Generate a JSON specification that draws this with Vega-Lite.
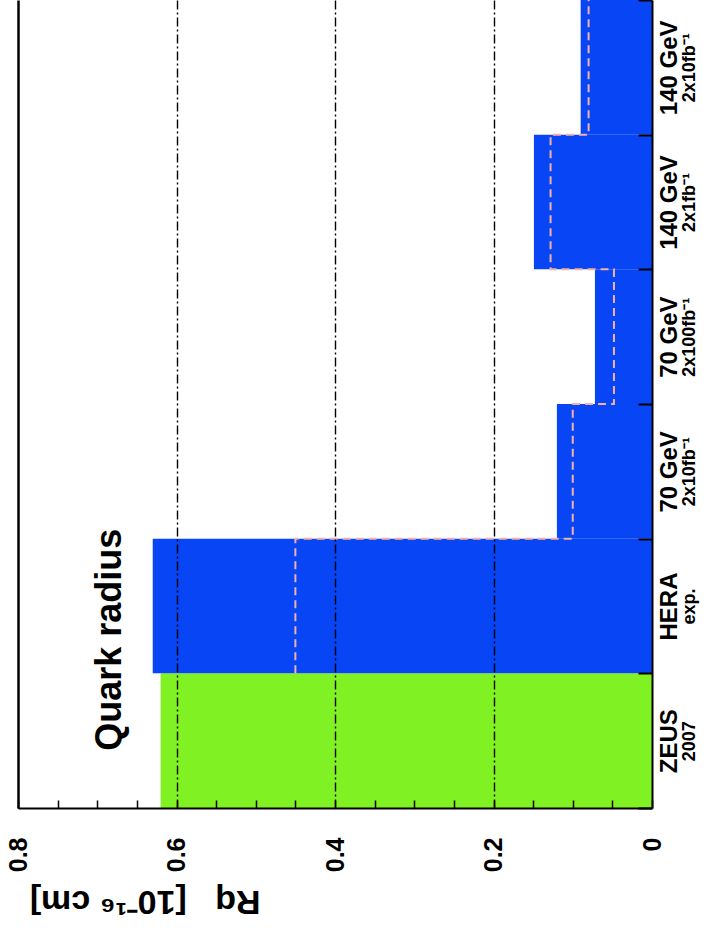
{
  "$schema": "https://vega.github.io/schema/vega-lite/v6.json",
  "width": 634,
  "height": 808,
  "autosize": {"type": "none"},
  "padding": {"left": 18, "top": 0, "right": 59, "bottom": 137},
  "background": "white",
  "config": {"view": {"stroke": null}, "font": "Liberation Sans"},
  "datasets": {
    "cats": [
      {"cat": "ZEUS 2007", "lo": 0, "hi": 1, "val": 0.62, "kind": "ZEUS 2007"},
      {"cat": "HERA exp.", "lo": 1, "hi": 2, "val": 0.63, "kind": "projected"},
      {"cat": "70 GeV 2x10fb-1", "lo": 2, "hi": 3, "val": 0.12, "kind": "projected"},
      {"cat": "70 GeV 2x100fb-1", "lo": 3, "hi": 4, "val": 0.072, "kind": "projected"},
      {"cat": "140 GeV 2x1fb-1", "lo": 4, "hi": 5, "val": 0.149, "kind": "projected"},
      {"cat": "140 GeV 2x10fb-1", "lo": 5, "hi": 6, "val": 0.09, "kind": "projected"}
    ],
    "step": [
      {"i": 0, "k": 1, "v": 0.45},
      {"i": 1, "k": 2, "v": 0.45},
      {"i": 2, "k": 2, "v": 0.10},
      {"i": 3, "k": 3, "v": 0.10},
      {"i": 4, "k": 3, "v": 0.048},
      {"i": 5, "k": 4, "v": 0.048},
      {"i": 6, "k": 4, "v": 0.128},
      {"i": 7, "k": 5, "v": 0.128},
      {"i": 8, "k": 5, "v": 0.08},
      {"i": 9, "k": 6, "v": 0.08}
    ],
    "note": [{"label": "Quark radius"}]
  },
  "resolve": {"axis": {"y": "independent", "x": "independent"}},
  "layer": [
    {
      "data": {"name": "cats"},
      "mark": {"type": "bar"},
      "encoding": {
        "x": {
          "field": "val", "type": "quantitative",
          "scale": {"domain": [0, 0.8], "reverse": true, "nice": false, "zero": false},
          "axis": {
            "orient": "bottom",
            "values": [0, 0.05, 0.1, 0.15, 0.2, 0.25, 0.3, 0.35, 0.4, 0.45, 0.5, 0.55, 0.6, 0.65, 0.7, 0.75, 0.8],
            "zindex": 1,
            "domain": true, "domainColor": "black", "domainWidth": 2,
            "ticks": true, "tickSize": -8, "tickColor": "black", "tickWidth": 1.5,
            "grid": true, "gridColor": "black",
            "gridOpacity": {"condition": {"test": "abs(datum.value*5 - round(datum.value*5)) < 0.001 && datum.value > 0.1", "value": 1}, "value": 0},
            "gridDash": {"condition": {"test": "datum.value > 0.79", "value": []}, "value": [9, 3, 2, 3]},
            "gridWidth": {"condition": {"test": "datum.value > 0.79", "value": 2.5}, "value": 1.4},
            "labelExpr": "abs(datum.value*5 - round(datum.value*5)) < 0.001 ? (datum.value == 0 ? '0' : format(datum.value, '.1f')) : ''",
            "labelAngle": -90, "labelAlign": "right", "labelBaseline": "middle",
            "labelPadding": 37, "labelFontSize": 25, "labelFont": "Liberation Sans", "labelFontWeight": "bold", "labelColor": "black",
            "labelOverlap": false, "labelBound": false, "labelFlush": false,
            "title": "Rq\u00a0\u00a0\u00a0[10⁻¹⁶ cm]",
            "titleAngle": 180, "titleAlign": "left", "titleBaseline": "alphabetic",
            "titleX": 242, "titleY": 82,
            "titleFontSize": 34, "titleFont": "Liberation Sans", "titleFontWeight": "bold", "titleColor": "black"
          }
        },
        "x2": {"datum": 0},
        "y": {
          "field": "lo", "type": "quantitative",
          "scale": {"domain": [0, 6], "nice": false, "zero": false},
          "axis": {
            "orient": "right",
            "values": [0, 0.5, 1, 1.5, 2, 2.5, 3, 3.5, 4, 4.5, 5, 5.5, 6],
            "zindex": 1,
            "domain": true, "domainColor": "black", "domainWidth": 2,
            "ticks": true, "tickSize": -14, "tickWidth": 2, "tickColor": "black",
            "tickOpacity": {"condition": {"test": "datum.value % 1 == 0", "value": 1}, "value": 0},
            "grid": false,
            "labelExpr": "datum.value % 1 == 0 ? '' : ['ZEUS','HERA','70 GeV','70 GeV','140 GeV','140 GeV'][floor(datum.value)]",
            "labelAngle": -90, "labelAlign": "center", "labelBaseline": "top",
            "labelPadding": 19, "labelFontSize": 24, "labelFont": "Liberation Sans", "labelFontWeight": "bold", "labelColor": "black",
            "labelOverlap": false, "labelBound": false, "labelFlush": false,
            "title": null
          }
        },
        "y2": {"field": "hi"},
        "color": {
          "field": "kind", "type": "nominal",
          "scale": {"domain": ["ZEUS 2007", "projected"], "range": ["#80f224", "#0745f5"]},
          "legend": null
        }
      }
    },
    {
      "data": {"name": "step"},
      "mark": {"type": "line", "color": "#f4b0a8", "strokeWidth": 2, "strokeDash": [8, 5]},
      "encoding": {
        "x": {"field": "v", "type": "quantitative", "scale": {"domain": [0, 0.8], "reverse": true, "nice": false, "zero": false}, "axis": null},
        "y": {
          "field": "k", "type": "quantitative",
          "scale": {"domain": [0, 6], "nice": false, "zero": false},
          "axis": {
            "orient": "right",
            "values": [0.5, 1.5, 2.5, 3.5, 4.5, 5.5],
            "domain": false, "ticks": false, "grid": false,
            "labelExpr": "['2007','exp.','2x10fb⁻¹','2x100fb⁻¹','2x1fb⁻¹','2x10fb⁻¹'][floor(datum.value)]",
            "labelAngle": -90, "labelAlign": "center", "labelBaseline": "top",
            "labelPadding": 28, "labelFontSize": 18, "labelFont": "Liberation Sans", "labelFontWeight": "bold", "labelColor": "black",
            "labelOverlap": false, "labelBound": false, "labelFlush": false,
            "title": null
          }
        },
        "order": {"field": "i", "type": "quantitative"}
      }
    },
    {
      "data": {"name": "note"},
      "mark": {"type": "text", "angle": 270, "align": "center", "baseline": "middle", "fontSize": 36, "fontWeight": "bold", "font": "Liberation Sans", "color": "black"},
      "encoding": {
        "x": {"datum": 0.684, "type": "quantitative", "scale": {"domain": [0, 0.8], "reverse": true, "nice": false, "zero": false}, "axis": null},
        "y": {"datum": 1.25, "type": "quantitative", "scale": {"domain": [0, 6], "nice": false, "zero": false}, "axis": null},
        "text": {"field": "label"}
      }
    }
  ]
}
